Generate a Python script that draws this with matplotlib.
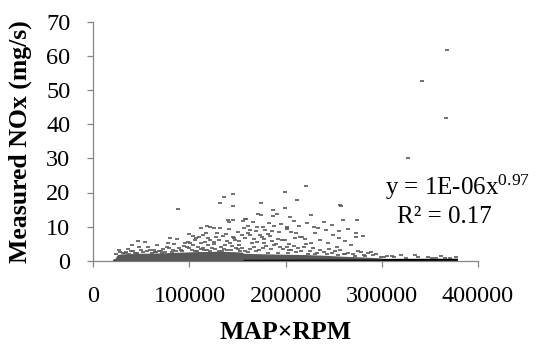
import numpy as np
import matplotlib
matplotlib.use("Agg")
import matplotlib.pyplot as plt

plt.rcParams['font.family'] = ['Liberation Serif', 'DejaVu Serif']
plt.rcParams['mathtext.fontset'] = 'custom'
plt.rcParams['mathtext.rm'] = 'Liberation Serif'
plt.rcParams['mathtext.it'] = 'Liberation Serif:italic'

# scattered points above the dense band (MAP x RPM in thousands, NOx mg/s)
map_rpm_k = [368, 342, 367, 327,
             221, 199, 212, 199, 256, 258, 260, 274, 209, 222, 229, 201, 242, 255, 273, 273,
             280, 255, 206, 211, 215, 217, 220, 210, 230, 226, 221, 204, 201, 213, 203, 253,
             278, 281, 286, 289, 262, 225, 233, 299, 313,
             136, 145, 132, 145, 174, 171, 174, 187, 191, 187, 140, 141, 145, 156, 159, 166,
             183, 176, 201, 201, 118, 121, 125, 132, 112, 163, 161, 169, 193, 186, 117, 114,
             110, 129, 135, 145, 146, 107, 106, 119, 121, 116, 125, 161, 163, 173, 175, 182,
             184, 192, 196, 167, 170, 151, 152, 142, 144, 133, 137, 104, 109, 114, 177, 180,
             199, 158,
             88, 46, 54, 40, 80, 78, 84, 63, 65, 72, 57, 59, 34, 41, 27, 95, 98, 101, 97, 100,
             79, 83, 71,
             103, 108, 112, 118, 123, 127, 131, 136, 139, 148, 150, 155, 158, 163, 167, 172,
             176, 185, 188, 194, 197, 206, 209, 216, 219, 228, 236, 240, 245, 248, 251, 257,
             265, 270, 275, 294, 305, 320, 334, 348, 356, 362, 371, 377,
             126, 131, 139, 147, 155, 158, 165, 178, 186, 190, 138, 128, 150, 157, 141, 170,
             179, 195, 188, 205, 214, 236, 244, 249, 262, 268, 234, 240, 226, 248, 265,
             31, 37, 45, 50, 52, 61, 68, 75, 77, 86, 89, 92, 94, 66, 48, 36, 87, 104, 99, 112, 119,
             24, 28, 33, 39, 43, 56, 64, 70, 82, 91, 106, 115, 121, 134, 143, 153, 161, 169, 182,
             192, 202, 211, 223, 231, 243, 254, 261, 272, 283, 291, 302, 311, 325, 338, 352, 366]
nox = [61.8, 52.7, 41.8, 30.1,
       22.0, 20.2, 17.8, 15.5, 16.3, 16.0, 11.9, 11.9, 11.6, 11.1, 10.0, 9.6, 8.9, 8.6, 8.2, 7.0,
       7.3, 6.6, 8.5, 8.2, 7.0, 7.0, 6.3, 6.6, 8.2, 5.1, 4.8, 4.9, 4.1, 3.6, 3.1, 4.0,
       2.5, 1.7, 2.2, 2.6, 2.0, 2.9, 2.2, 1.0, 1.0,
       18.8, 19.5, 16.8, 16.1, 16.8, 13.7, 13.4, 14.9, 13.6, 13.1, 11.9, 11.4, 11.9, 11.6, 12.2, 11.4,
       11.0, 10.0, 10.0, 9.3, 10.2, 9.8, 9.6, 9.5, 9.7, 9.0, 10.2, 8.8, 8.5, 8.7, 8.2, 7.5,
       6.9, 8.2, 7.2, 6.9, 6.7, 6.6, 6.1, 6.6, 6.1, 5.6, 4.9, 8.2, 7.5, 7.5, 7.0, 7.8,
       7.2, 6.3, 6.1, 6.3, 5.6, 5.9, 4.6, 5.1, 4.3, 4.1, 4.6, 4.6, 4.1, 3.6, 5.1, 4.3,
       6.1, 12.2,
       15.2, 5.8, 5.4, 4.6, 6.6, 5.1, 4.9, 3.1, 2.6, 3.4, 3.9, 3.1, 2.6, 2.8, 3.1, 5.3, 5.4, 5.1, 4.1, 3.6,
       3.6, 3.1, 2.2,
       3.2, 2.9, 3.4, 3.0, 3.7, 3.3, 2.9, 3.5, 3.1, 3.8, 3.3, 3.6, 2.9, 3.4, 4.0, 3.2,
       3.7, 3.3, 4.5, 3.9, 3.4, 3.0, 4.3, 2.7, 3.9, 3.6, 3.1, 2.6, 3.4, 2.3, 2.8, 3.1,
       2.4, 1.9, 2.9, 2.0, 1.4, 1.6, 1.8, 1.2, 0.9, 1.5, 0.7, 1.1,
       5.5, 6.0, 5.7, 6.2, 7.6, 6.8, 5.2, 6.4, 5.8, 4.8, 7.7, 7.0, 8.5, 9.6, 9.3, 9.9,
       8.9, 10.7, 10.1, 12.8, 10.3, 6.0, 5.3, 7.6, 5.7, 4.6, 9.6, 11.3, 13.4, 10.4, 9.2,
       2.3, 2.0, 2.4, 3.2, 2.5, 2.2, 2.8, 2.6, 3.9, 2.9, 3.7, 2.7, 4.4, 4.6, 3.9, 3.5, 6.3, 7.3, 7.8, 5.3, 4.5,
       2.1, 2.6, 2.4, 2.9, 2.3, 2.7, 2.5, 2.9, 2.6, 3.0, 2.8, 3.0, 2.7, 2.9, 3.1, 2.8, 2.5, 2.7, 2.3,
       2.4, 2.2, 2.5, 2.0, 2.1, 1.9, 1.8, 2.0, 1.5, 1.4, 1.7, 1.2, 1.3, 0.9, 1.1, 0.8, 0.9]

# outline of the saturated band of points near zero
band_x_k = [22, 25, 30, 40, 50, 60, 70, 80, 90, 100, 110, 120, 130, 140, 150, 155,
            156, 165, 180, 200, 220, 240, 260, 280, 300]
band_top = [0.4, 1.8, 2.0, 2.1, 2.2, 2.2, 2.3, 2.4, 2.5, 2.6, 2.7, 2.7, 2.8, 2.7, 2.6, 2.5,
            2.2, 2.1, 2.0, 1.9, 1.8, 1.6, 1.3, 1.1, 0.8]
band_low = [0, 0, 0, 0, 0, 0, 0, 0, 0, 0, 0, 0, 0, 0, 0, 0,
            0.5, 0.5, 0.5, 0.5, 0.5, 0.5, 0.5, 0.5, 0.5]

# power trendline shown on the chart: y = a * x^b
trend_a = 1e-6
trend_b = 0.97
trend_range_k = [22, 378]

x = np.array(map_rpm_k) * 1000
bx = np.array(band_x_k) * 1000

fig = plt.figure(figsize=(5.42, 3.44), dpi=100)
ax = fig.add_axes([93.3/542, 1-260.7/344, (478-93.3)/542, (260.7-22)/344])

grey = '#595959'
tx = np.linspace(trend_range_k[0]*1000, trend_range_k[1]*1000, 200)
ax.plot(tx, trend_a * tx**trend_b, color='black', lw=1.6, zorder=2)
ax.fill_between(bx, band_low, band_top, color=grey, lw=0, zorder=3)
ax.plot(x, nox, ls='none', marker='_', ms=2.2, mew=1.2, color=grey, zorder=4)

ax.set_xlim(0, 400000)
ax.set_ylim(0, 70)
ax.set_xticks([0, 100000, 200000, 300000, 400000])
ax.set_yticks(range(0, 80, 10))
for s in ['top', 'right']:
    ax.spines[s].set_visible(False)
for s in ['left', 'bottom']:
    ax.spines[s].set_color('#868686')
    ax.spines[s].set_linewidth(0.9)
ax.tick_params(axis='both', colors='#868686', length=4.5, width=0.9, labelcolor='black', labelsize=17.5)
ax.tick_params(axis='x', pad=14)
ax.tick_params(axis='y', pad=12)

ax.set_xlabel('MAP×RPM', fontsize=18.5, fontweight='bold', va='center')
ax.xaxis.set_label_coords(0.5, -0.30)
ax.set_ylabel('Measured NOx (mg/s)', fontsize=18.5, fontweight='bold', va='center')
ax.yaxis.set_label_coords(-0.19, 0.497)

fig.text(385/542, 1-195/344, 'y = 1E-06x$^{0.97}$', fontsize=18, ha='left', va='baseline')
fig.text(397/542, 1-223/344, 'R² = 0.17', fontsize=18, ha='left', va='baseline')

fig.savefig('out.png', dpi=100)
